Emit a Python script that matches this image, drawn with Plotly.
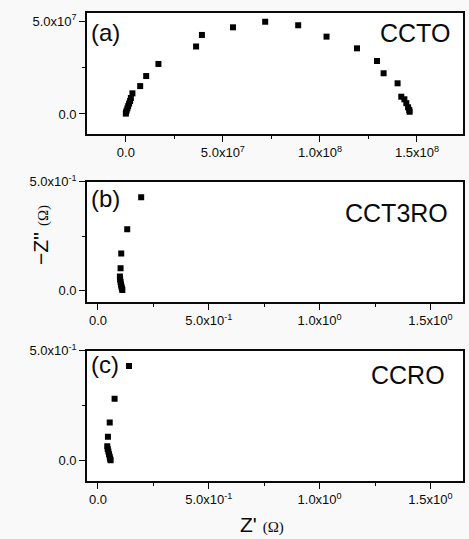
import plotly.graph_objects as go

# ---------------- data ----------------
ccto_x = [0.0, 0.1e6, 0.4e6, 0.8e6, 1.2e6, 1.7e6, 2.2e6, 2.6e6, 3.4e6, 7.4e6, 1.05e7, 1.68e7,
          3.62e7, 3.92e7, 5.52e7, 7.18e7, 8.88e7, 1.034e8, 1.191e8, 1.294e8, 1.328e8, 1.400e8,
          1.419e8, 1.435e8, 1.445e8, 1.454e8, 1.460e8, 1.462e8]
ccto_y = [0.2e6, 0.8e6, 1.8e6, 3.0e6, 4.2e6, 5.6e6, 7.0e6, 8.6e6, 1.11e7, 1.50e7, 2.04e7, 2.69e7,
          3.63e7, 4.25e7, 4.66e7, 4.96e7, 4.77e7, 4.16e7, 3.53e7, 2.85e7, 2.19e7, 1.65e7,
          9.3e6, 7.9e6, 5.8e6, 3.6e6, 2.2e6, 1.2e6]

cct3ro_x = [0.195, 0.132, 0.105, 0.102, 0.099, 0.100, 0.102, 0.104, 0.106, 0.108, 0.110]
cct3ro_y = [0.428, 0.281, 0.170, 0.101, 0.063, 0.050, 0.038, 0.027, 0.017, 0.008, 0.001]

ccro_x = [0.140, 0.075, 0.053, 0.045, 0.042, 0.044, 0.047, 0.050, 0.053, 0.055, 0.057]
ccro_y = [0.430, 0.281, 0.173, 0.108, 0.065, 0.052, 0.040, 0.028, 0.017, 0.008, 0.001]

panel_tags = ["(a)", "(b)", "(c)"]
sample_names = ["CCTO", "CCT3RO", "CCRO"]

xa_vals = [0, 5e7, 1e8, 1.5e8]
xa_text = ["0.0", "5.0x10<sup>7</sup>", "1.0x10<sup>8</sup>", "1.5x10<sup>8</sup>"]
xa_minor = [2.5e7, 7.5e7, 1.25e8]
ya_vals = [0, 5e7]
ya_text = ["0.0", "5.0x10<sup>7</sup>"]
ya_minor = [2.5e7]

xb_vals = [0, 0.5, 1.0, 1.5]
xb_text = ["0.0", "5.0x10<sup>-1</sup>", "1.0x10<sup>0</sup>", "1.5x10<sup>0</sup>"]
xb_minor = [0.25, 0.75, 1.25]
yb_vals = [0, 0.5]
yb_text = ["0.0", "5.0x10<sup>-1</sup>"]
yb_minor = [0.25]

# ---------------- figure ----------------
FONT = "Liberation Sans, Arial, sans-serif"
INK = "#0a0a0a"
fig = go.Figure()

series = [(ccto_x, ccto_y), (cct3ro_x, cct3ro_y), (ccro_x, ccro_y)]
for i, (xs, ys) in enumerate(series):
    sfx = "" if i == 0 else str(i + 1)
    fig.add_trace(go.Scatter(
        x=xs, y=ys, mode="markers", xaxis="x" + sfx, yaxis="y" + sfx,
        marker=dict(symbol="square", size=6, color="black", line=dict(width=0)),
        showlegend=False, hoverinfo="skip"))


def axis(vals, text, minor, rng, domain, anchor):
    return dict(
        range=rng, domain=domain, anchor=anchor, automargin=False,
        tickmode="array", tickvals=vals, ticktext=text,
        ticks="outside", ticklen=6, tickwidth=1.4, tickcolor=INK,
        minor=dict(tickmode="array", tickvals=minor, ticks="outside",
                   ticklen=3, tickwidth=1.4, tickcolor=INK),
        showline=True, linecolor=INK, linewidth=1.6, mirror=True,
        showgrid=False, zeroline=False,
        tickfont=dict(family=FONT, size=13, color=INK),
    )


dom_a = [0.7415, 1.0]
dom_b = [0.3831, 0.6395]
dom_c = [0.0, 0.2784]

fig.update_layout(
    width=469, height=539,
    margin=dict(l=87, r=6, t=13, b=58),
    paper_bgcolor="#f9f9f9", plot_bgcolor="white",
    font=dict(family=FONT, color=INK),
    xaxis=axis(xa_vals, xa_text, xa_minor, [-2.0e7, 1.737e8], [0, 1], "y"),
    yaxis=axis(ya_vals, ya_text, ya_minor, [-1.075e7, 5.43e7], dom_a, "x"),
    xaxis2=axis(xb_vals, xb_text, xb_minor, [-0.0495, 1.647], [0, 1], "y2"),
    yaxis2=axis(yb_vals, yb_text, yb_minor, [-0.0525, 0.5], dom_b, "x2"),
    xaxis3=axis(xb_vals, xb_text, xb_minor, [-0.0495, 1.647], [0, 1], "y3"),
    yaxis3=axis(yb_vals, yb_text, yb_minor, [-0.094, 0.5], dom_c, "x3"),
)

tag_y = [0.835, 0.862, 0.895]
name_y = [0.835, 0.737, 0.813]
name_x = [0.971, 0.965, 0.957]
for i in range(3):
    sfx = "" if i == 0 else str(i + 1)
    fig.add_annotation(text=panel_tags[i], xref="x" + sfx + " domain", yref="y" + sfx + " domain",
                       x=0.005, y=tag_y[i], xanchor="left", yanchor="middle", showarrow=False,
                       font=dict(family=FONT, size=24, color=INK))
    fig.add_annotation(text=sample_names[i], xref="x" + sfx + " domain", yref="y" + sfx + " domain",
                       x=name_x[i], y=name_y[i], xanchor="right", yanchor="middle", showarrow=False,
                       font=dict(family=FONT, size=25, color=INK))

# axis titles
fig.add_annotation(text="Z' <span style='font-size:15px;font-family:Liberation Serif'>(Ω)</span>",
                   xref="paper", yref="paper", x=0.465, y=-0.094, xanchor="center", yanchor="middle",
                   showarrow=False, font=dict(family=FONT, size=21, color=INK))
fig.add_annotation(text="−Z'' <span style='font-size:15px;font-family:Liberation Serif'>(Ω)</span>",
                   xref="paper", yref="paper", x=-0.125, y=(481 - 235) / 468, xanchor="center",
                   yanchor="middle", textangle=-90, showarrow=False,
                   font=dict(family=FONT, size=21, color=INK))

fig.write_html("out.html", config={"displayModeBar": False},
               post_script="document.body.style.margin='0px';")
